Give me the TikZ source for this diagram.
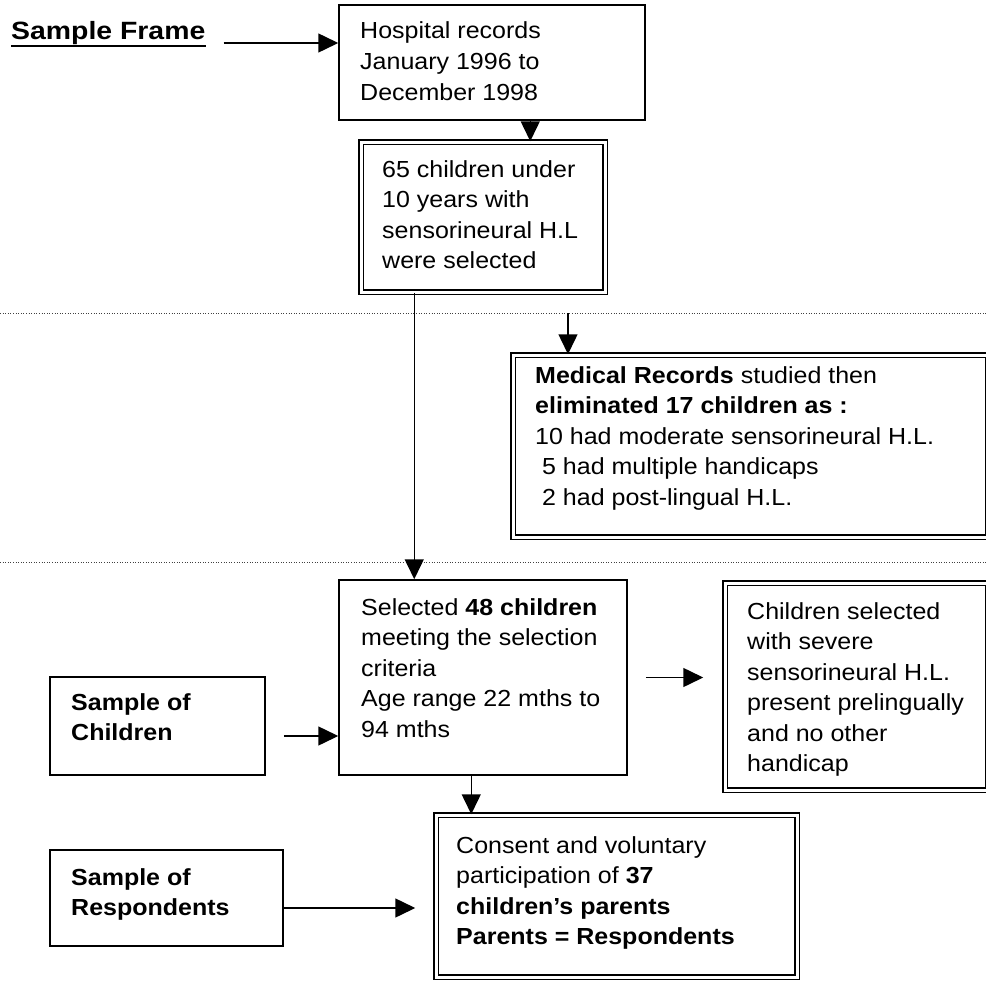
\documentclass[tikz,border=0pt]{standalone}
\usepackage{fontspec}
\setmainfont{Liberation Sans}
\usepackage{graphicx}
\usetikzlibrary{arrows.meta}
\newcommand\sqz[1]{\scalebox{1}[0.93]{\begin{tabular}[t]{@{}l@{}}#1\end{tabular}}}
\begin{document}
\begin{tikzpicture}[x=1pt,y=-1pt,
  sbox/.style={draw, fill=white, line width=1.5pt, inner sep=0pt},
  dbox/.style={draw, fill=white, double, double distance=3pt, line width=1.5pt, inner sep=0pt},
  txt/.style={anchor=base west, inner sep=0pt, font=\fontsize{25}{32.8}\selectfont},
  arr/.style={line width=1.5pt, -{Triangle[length=20pt,width=19pt]}},
  dotline/.style={line width=0.9pt, black!75, dash pattern=on 1pt off 1.6pt}]
\useasboundingbox (0,0) rectangle (986,982);
\fill[white] (0,0) rectangle (986,982);

% dotted separators
\draw[dotline] (0,313) -- (986,313);
\draw[dotline] (0,562) -- (986,562);

% boxes
\node[sbox, minimum width=306pt, minimum height=115pt] (hosp) at (492,62.5) {};
\node[dbox, minimum width=244pt, minimum height=150pt] (box2) at (483,217) {};
\node[dbox, minimum width=475pt, minimum height=182pt] (med) at (750.5,446) {};
\node[sbox, minimum width=288pt, minimum height=195pt] (sel) at (483,677.5) {};
\node[sbox, minimum width=215pt, minimum height=98pt] (chs) at (157.5,726) {};
\node[dbox, minimum width=263pt, minimum height=207pt] (csel) at (856.5,686.5) {};
\node[sbox, minimum width=233pt, minimum height=96pt] (resp) at (166.5,898) {};
\node[dbox, minimum width=361pt, minimum height=162pt] (cons) at (616.5,896) {};

% texts
\node[anchor=base west, inner sep=0pt, font=\fontsize{28.4}{34}\selectfont\bfseries] (sf) at (11,40) {\scalebox{1}[0.88]{Sample Frame}};
\draw[line width=1.8pt] ([yshift=-6pt]sf.base west) -- ([yshift=-6pt]sf.base east);

\node[txt] (hospT) at (360,39) {\sqz{Hospital records\\January 1996 to\\December 1998}};
\node[txt] (box2T) at (382,177) {\sqz{65 children under\\10 years with\\sensorineural H.L\\were selected}};
\node[txt] (medT) at (535,383) {\sqz{\textbf{Medical Records} studied then\\\textbf{eliminated 17 children as :}\\10 had moderate sensorineural H.L.\\\ 5 had multiple handicaps\\\ 2 had post-lingual H.L.}};
\node[txt] (selT) at (361,615) {\sqz{Selected \textbf{48 children}\\meeting the selection\\criteria\\Age range 22 mths to\\94 mths}};
\node[txt] (chsT) at (71,710) {\sqz{\textbf{Sample of}\\\textbf{Children}}};
\node[txt] (cselT) at (747,619) {\sqz{Children selected\\with severe\\sensorineural H.L.\\present prelingually\\and no other\\handicap}};
\node[txt] (respT) at (71,885) {\sqz{\textbf{Sample of}\\\textbf{Respondents}}};
\node[txt] (consT) at (456,853) {\sqz{Consent and voluntary\\participation of \textbf{37}\\\textbf{children’s parents}\\\textbf{Parents = Respondents}}};

% connectors
\coordinate (sfa) at ([xshift=18pt,yshift=-3pt]sf.base east);
\draw[arr] (sfa) -- (sfa -| hosp.west);
\draw[arr] ([xshift=192pt]hosp.south west) -- ([xshift=192pt]hosp.south west |- box2.north);
\draw[arr] ([xshift=54pt]box2.south west) -- ([xshift=54pt]box2.south west |- sel.north);
\coordinate (m1) at (568,313);
\draw[arr] (m1) -- (m1 |- med.north);
\draw[arr] ([xshift=18pt,yshift=-10pt]chs.east) -- ([yshift=-10pt]chs.east -| sel.west);
\draw[arr] ([xshift=18pt]sel.east) -- ([xshift=-21pt]sel.east -| csel.west);
\draw[arr] ([xshift=133pt]sel.south west) -- ([xshift=133pt]sel.south west |- cons.north);
\draw[arr] ([yshift=-10pt]resp.east) -- ([yshift=-10pt,xshift=-20pt]resp.east -| cons.west);
\end{tikzpicture}
\end{document}
